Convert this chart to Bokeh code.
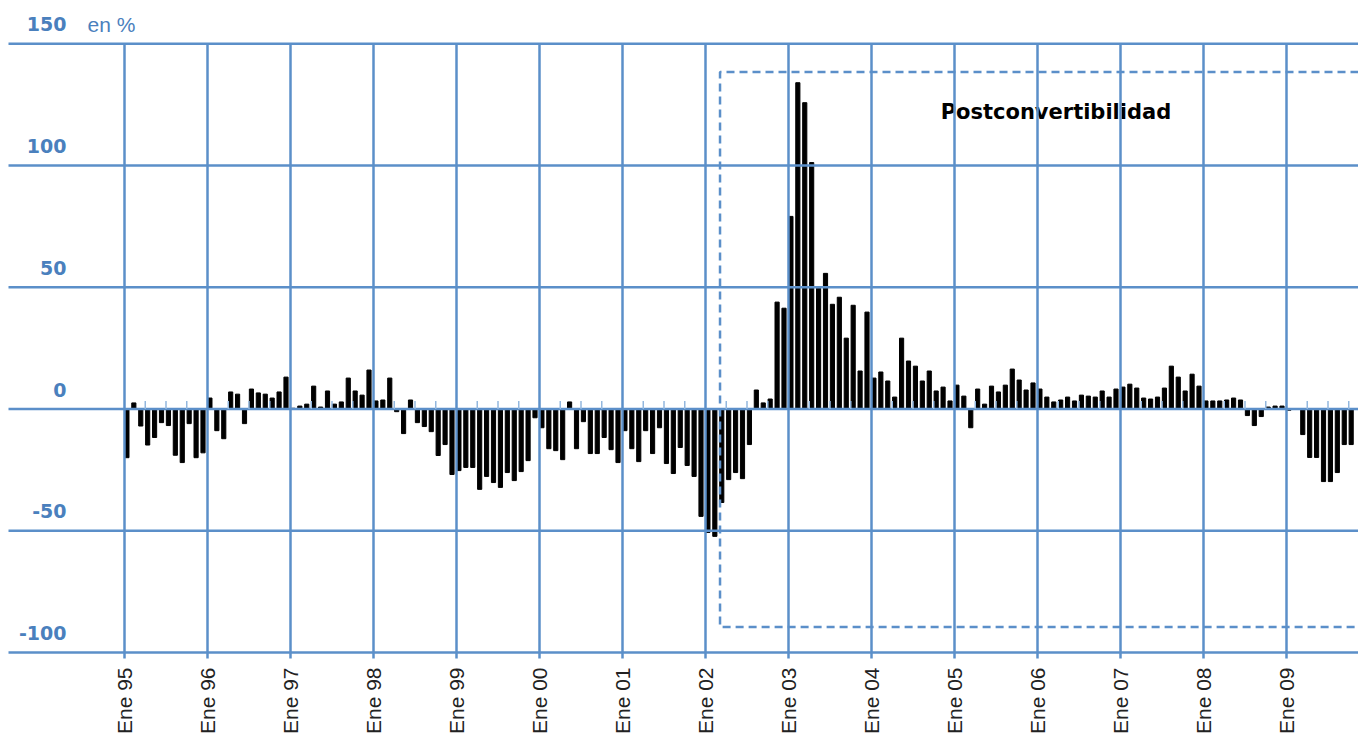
import numpy as np
from bokeh.plotting import figure
from bokeh.models import Range1d
from bokeh.core.properties import value
from bokeh.embed import file_html
from bokeh.resources import INLINE

# ---------------- data ----------------
years = ["95", "96", "97", "98", "99", "00", "01", "02", "03", "04", "05", "06", "07", "08", "09"]
x_labels = ["Ene " + y for y in years]
y_ticks = [-100, -50, 0, 50, 100, 150]
y_labels = ["-100", "-50", "0", "50", "100", "150"]
unit_label = "en %"
period_label = "Postconvertibilidad"

v1995 = [-20, 2.5, -7, -14.8, -11.7, -5.6, -6.8, -19, -22, -6, -20, -18]
v1996 = [4.5, -8.9, -12.2, 7, 6.1, -6, 8.2, 6.6, 6.1, 4.5, 7, 13.1]
v1997 = [0.3, 1.2, 2, 9.4, 0.8, 7.4, 2, 2.9, 12.7, 7.4, 5.7, 16]
v1998 = [3.3, 3.7, 12.7, -1.1, -10.1, 3.7, -5.6, -7.2, -9.3, -19.1, -14.6, -26.9]
v1999 = [-25.3, -24, -24, -33, -27.7, -30.2, -32.2, -26.1, -29.4, -25.7, -21.2, -3.6]
v2000 = [-7.7, -16.3, -17.1, -20.8, 2.9, -16.3, -5.2, -18.3, -18.3, -11.7, -16.7, -22]
v2001 = [-8.9, -16.3, -21.6, -8.9, -18.3, -7.7, -22.4, -26.5, -15.8, -23.2, -27.7, -44.1]
v2002 = [-50.7, -52.3, -38.4, -29, -26.1, -28.6, -14.6, 7.8, 2.5, 4.1, 43.9, 41.4]
v2003 = [79.1, 134, 125.8, 101.2, 49.6, 55.7, 43, 45.9, 29.1, 42.6, 15.6, 39.8]
v2004 = [12.7, 15.2, 11.5, 4.9, 29.1, 19.7, 17.6, 11.5, 15.6, 7.4, 9, 3.3]
v2005 = [9.8, 5.3, -7.7, 8.2, 2, 9.4, 7, 9.8, 16.4, 11.9, 7.8, 10.7]
v2006 = [8.2, 4.9, 2.9, 3.7, 4.9, 3.3, 5.7, 5.3, 4.9, 7.4, 4.9, 8.2]
v2007 = [9, 10.2, 8.6, 4.5, 4.1, 4.9, 8.6, 17.6, 13.1, 7.4, 14.3, 9.4]
v2008 = [3.3, 3.3, 3.3, 3.7, 4.5, 3.7, -2.7, -6.8, -3.1, 0.8, 1.2, 1.2]
v2009 = [-0.5, 0, -10.5, -19.9, -19.9, -29.8, -29.8, -26.1, -14.6, -14.6]

values = (v1995 + v1996 + v1997 + v1998 + v1999 + v2000 + v2001 + v2002 +
          v2003 + v2004 + v2005 + v2006 + v2007 + v2008 + v2009)

# period box (Postconvertibilidad) : starts March 2002
box_start_month = 86
box_top = 138.4
box_bottom = -89.5

# ---------------- layout ----------------
BLUE = "#5b8fc9"
LABEL_BLUE = "#4a80bd"
TICK_BLUE = "#93b7de"

W, H = 1358, 733
px_per_month = 83 / 12
px_per_unit = 2.435
x_origin_px = 124.0   # page x of Ene 95
y_zero_px = 408.5     # page y of 0

X0 = (0 - x_origin_px) / px_per_month
X1 = (W - x_origin_px) / px_per_month
Y1 = (y_zero_px - 0) / px_per_unit
Y0 = (y_zero_px - H) / px_per_unit

months = np.arange(len(values))
jan_pos = np.arange(len(years)) * 12
quarter_pos = [m for m in range(0, 178) if m % 12 in (3, 6, 9)]

p = figure(width=W, height=H, x_range=Range1d(X0, X1), y_range=Range1d(Y0, Y1),
           output_backend="svg", toolbar_location=None,
           x_axis_location=None, y_axis_location=None, min_border=0)
p.grid.visible = False
p.outline_line_color = None
p.background_fill_color = "white"

# period label (under grid lines)
p.text(x=[118.0], y=[121.8], text=[period_label], text_font=value("DejaVu Sans"),
       text_font_style="bold", text_font_size="21px", text_color="black",
       text_align="left", text_baseline="middle")

# bars
p.vbar(x=months + 0.35, top=values, bottom=0, width=0.6, color="black")

# horizontal grid lines
x_line_start = (8 - x_origin_px) / px_per_month
p.segment(x0=[x_line_start] * len(y_ticks), x1=[X1] * len(y_ticks), y0=y_ticks, y1=y_ticks,
          line_color=BLUE, line_width=2.5)
# vertical grid lines
p.segment(x0=jan_pos, x1=jan_pos, y0=[-100 - 6 / px_per_unit] * len(jan_pos),
          y1=[150] * len(jan_pos), line_color=BLUE, line_width=2.5)
# quarter ticks on the zero line
p.segment(x0=quarter_pos, x1=quarter_pos, y0=[0] * len(quarter_pos),
          y1=[8 / px_per_unit] * len(quarter_pos), line_color=TICK_BLUE, line_width=1.5)

# dashed period box
bx = box_start_month + 0.1
p.line(x=[X1, bx, bx, X1], y=[box_top, box_top, box_bottom, box_bottom],
       line_color=BLUE, line_width=2.5, line_dash="8 5")

# y labels
label_x = (66 - x_origin_px) / px_per_month
p.text(x=[label_x] * len(y_ticks), y=[t + 19.5 / px_per_unit for t in y_ticks], text=y_labels,
       text_font=value("DejaVu Sans"), text_font_style="bold", text_font_size="19px",
       text_color=LABEL_BLUE, text_align="right", text_baseline="middle")
p.text(x=[(87 - x_origin_px) / px_per_month], y=[150 + 19.5 / px_per_unit], text=[unit_label],
       text_font=value("Liberation Sans"), text_font_size="21px",
       text_color=LABEL_BLUE, text_align="left", text_baseline="middle")

# x labels (rotated)
p.text(x=jan_pos, y=[-100 - 15 / px_per_unit] * len(jan_pos), text=x_labels,
       angle=np.pi / 2, text_font=value("Liberation Sans"), text_font_size="21px",
       text_color="#222222", text_align="right", text_baseline="middle")

open("out.html", "w").write(file_html(p, INLINE))
